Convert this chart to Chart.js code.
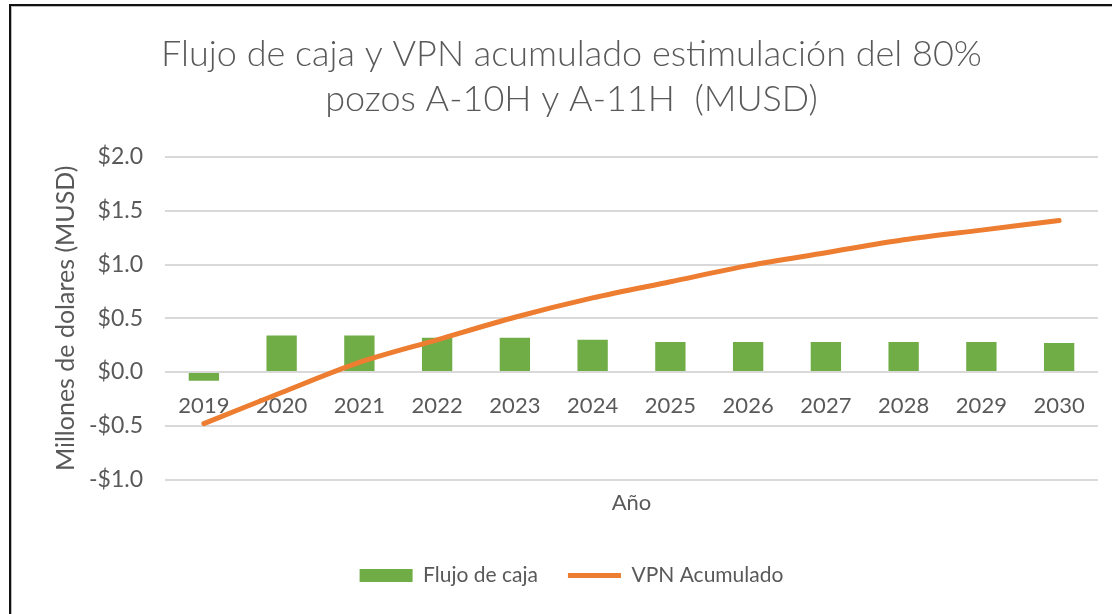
<!DOCTYPE html>
<html>
<head>
<meta charset="utf-8">
<script src="https://cdn.jsdelivr.net/npm/chart.js@4.4.1/dist/chart.umd.min.js"></script>
<style>
  html, body { margin: 0; padding: 0; background: #fff; overflow: hidden; }
  #wrap { position: absolute; left: 0; top: 0; width: 1112px; height: 614px; }
  #frame {
    position: absolute; left: 9px; top: 4px; width: 1200px; height: 700px;
    border-left: 2px solid #111; border-top: 2px solid #111;
    box-shadow: inset 1px 1px 0 #bbb;
  }
</style>
</head>
<body>
<div id="wrap">
  <canvas id="chart" width="1112" height="614"></canvas>
  <div id="frame"></div>
</div>
<script>
const years = ["2019", "2020", "2021", "2022", "2023", "2024", "2025", "2026", "2027", "2028", "2029", "2030"];
const flujoCaja = [-0.08, 0.34, 0.34, 0.32, 0.32, 0.30, 0.28, 0.28, 0.28, 0.28, 0.28, 0.27];
const vpnAcumulado = [-0.48, -0.19, 0.09, 0.30, 0.51, 0.69, 0.84, 0.99, 1.11, 1.23, 1.32, 1.41];
const titleLines = ["Flujo de caja y VPN acumulado estimulación del 80%", "pozos A-10H y A-11H  (MUSD)"];

const textColor = "#595959";
const fontFamily = "Lato, 'Open Sans', sans-serif";

function money(v) {
  return (v < 0 ? "-" : "") + "$" + Math.abs(v).toFixed(1);
}

const chart = new Chart(document.getElementById("chart"), {
  data: {
    labels: years,
    datasets: [
      {
        type: "bar",
        label: "Flujo de caja",
        data: flujoCaja,
        backgroundColor: "#70AD47",
        borderWidth: 0,
        barPercentage: 0.39,
        categoryPercentage: 1,
        pointStyle: "rect",
        order: 1
      },
      {
        type: "line",
        label: "VPN Acumulado",
        data: vpnAcumulado,
        borderColor: "#ED7D31",
        backgroundColor: "#ED7D31",
        borderWidth: 5,
        borderCapStyle: "round",
        pointRadius: 0,
        pointStyle: "line",
        tension: 0.3,
        fill: false,
        order: 0
      }
    ]
  },
  options: {
    responsive: false,
    animation: false,
    layout: { padding: { left: 45, right: 14, top: 0, bottom: 18 } },
    plugins: {
      title: {
        display: true,
        text: titleLines,
        color: textColor,
        font: { family: fontFamily, size: 36, weight: 300, lineHeight: 1.25 },
        padding: { top: 32, bottom: 35 }
      },
      legend: {
        position: "bottom",
        labels: {
          usePointStyle: true,
          pointStyleWidth: 53,
          boxHeight: 13,
          padding: 30,
          color: textColor,
          font: { family: fontFamily, size: 21 },
          sort: (a, b) => a.datasetIndex - b.datasetIndex
        }
      },
      tooltip: { enabled: false }
    },
    scales: {
      x: {
        type: "category",
        position: { y: 0 },
        grid: { display: false },
        border: { display: false },
        ticks: { color: textColor, font: { family: fontFamily, size: 22 }, padding: 13, maxRotation: 0 }
      },
      x2: {
        type: "linear",
        position: "bottom",
        grid: { display: false },
        border: { display: false },
        ticks: { display: false },
        title: {
          display: true,
          text: "Año",
          color: textColor,
          font: { family: fontFamily, size: 22 },
          padding: { top: 2, bottom: 19 }
        }
      },
      y: {
        min: -1,
        max: 2,
        grid: { color: "#d9d9d9", lineWidth: 2, drawTicks: false },
        border: { display: false },
        ticks: {
          stepSize: 0.5,
          color: textColor,
          font: { family: fontFamily, size: 23 },
          padding: 22,
          callback: v => money(v)
        },
        title: {
          display: true,
          text: "Millones de dolares (MUSD)",
          color: textColor,
          font: { family: fontFamily, size: 25 },
          padding: { top: 6, bottom: 4 }
        },
        afterFit: s => { s.width = 120; }
      }
    }
  }
});
</script>
</body>
</html>
